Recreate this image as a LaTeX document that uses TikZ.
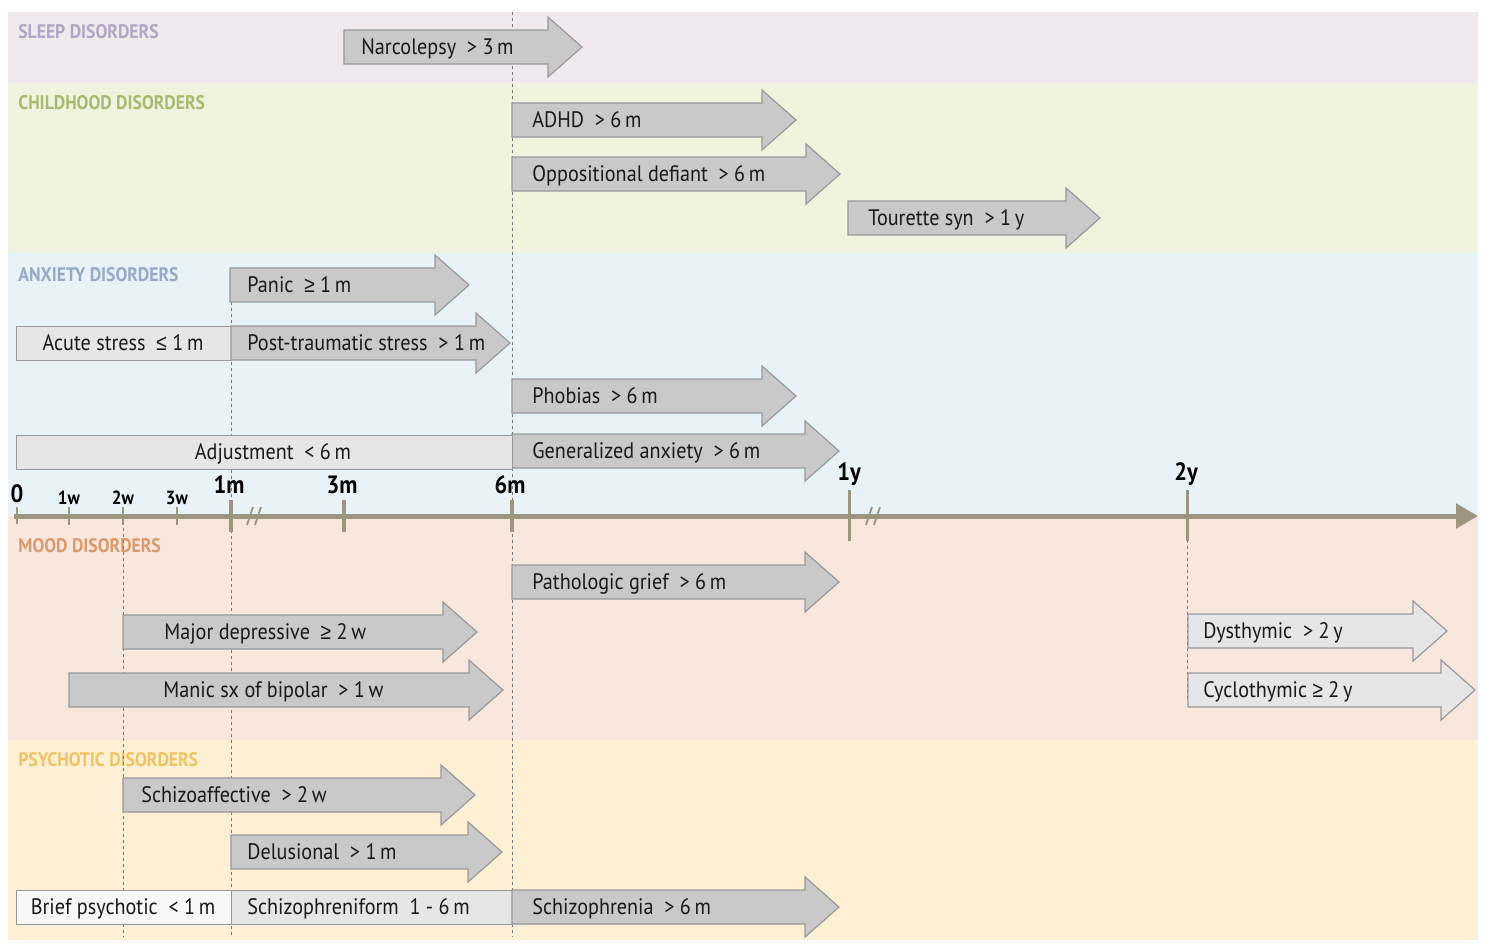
\documentclass[tikz,border=0pt]{standalone}
\usepackage{fontspec}
\setmainfont{PT Sans}[FakeStretch=0.9]
\newfontfamily\relfont{Liberation Sans}[FakeStretch=0.85]
\usetikzlibrary{arrows.meta}

% panel and header colours
\definecolor{sleepbg}{HTML}{F0E9EE}
\definecolor{childbg}{HTML}{F0F4DE}
\definecolor{anxbg}{HTML}{E7F3F6}
\definecolor{moodbg}{HTML}{F7E7DC}
\definecolor{psybg}{HTML}{FDF0D5}
\definecolor{sleephd}{HTML}{B4A5C4}
\definecolor{childhd}{HTML}{A9B96F}
\definecolor{anxhd}{HTML}{98A8CB}
\definecolor{moodhd}{HTML}{DC9A6C}
\definecolor{psyhd}{HTML}{F2C361}
% bars and axis
\definecolor{barmid}{HTML}{C9C9C9}
\definecolor{barlight}{HTML}{E6E6E6}
\definecolor{barwhite}{HTML}{F8F8F8}
\definecolor{baredge}{HTML}{999999}
\definecolor{axisgray}{HTML}{9C9580}
\definecolor{guidegray}{HTML}{7A7A7A}

% relation signs with a horizontal bar
\newcommand{\geqs}{{\relfont ≥}}
\newcommand{\leqs}{{\relfont ≤}}

\tikzset{
  boxedge/.style={draw=baredge, line width=0.6pt},
  lbl/.style={anchor=base west, inner sep=0pt, font=\fontsize{11.2}{12}\selectfont, text=black!90},
  lblc/.style={anchor=base, inner sep=0pt, font=\fontsize{11.2}{12}\selectfont, text=black!90},
  header/.style={anchor=base west, inner sep=0pt, font=\bfseries\fontsize{9.8}{11}\selectfont},
  guide/.style={draw=guidegray, line width=0.5pt, dash pattern=on 1.5pt off 1.5pt},
  axisline/.style={draw=axisgray, line width=2.5pt},
  tickw/.style={draw=axisgray, line width=1pt},
  tickm/.style={draw=axisgray, line width=2pt},
  ticky/.style={draw=axisgray, line width=1.5pt},
  ticklbl/.style={anchor=base, inner sep=0pt, font=\bfseries\fontsize{12.5}{14}\selectfont},
  ticklbls/.style={anchor=base, inner sep=0pt, font=\bfseries\fontsize{9.5}{11}\selectfont},
}

% duration arrow: fill, name, start x, body end x, centre y, text x, text
\newcommand{\spanarrow}[7]{%
  \draw[boxedge, fill=#1] (#3,#5-17) -- (#4,#5-17) -- (#4,#5-30) -- (#4+34,#5)
    -- (#4,#5+30) -- (#4,#5+17) -- (#3,#5+17) -- cycle;
  \node[lbl] (#2) at (#6,#5+7.5) {#7};
}

\begin{document}
\begin{tikzpicture}[x=0.5pt, y=-0.5pt]
\useasboundingbox (0,0) rectangle (1488,950);

% category panels
\fill[sleepbg] (8,12) rectangle (1478,83);
\fill[childbg] (8,83) rectangle (1478,253);
\fill[anxbg]   (8,253) rectangle (1478,516);
\fill[moodbg]  (8,516) rectangle (1478,740);
\fill[psybg]   (8,740) rectangle (1478,940);

% category headers
\node[header, text=sleephd] (hsleep) at (18,38) {SLEEP DISORDERS};
\node[header, text=childhd] (hchild) at (18,109) {CHILDHOOD DISORDERS};
\node[header, text=anxhd]   (hanx)   at (18,281) {ANXIETY DISORDERS};
\node[header, text=moodhd]  (hmood)  at (18,552) {MOOD DISORDERS};
\node[header, text=psyhd]   (hpsy)   at (18,766) {PSYCHOTIC DISORDERS};

% guide lines at 2 weeks, 1 month, 6 months and 2 years
\draw[guide] (512,12) -- (512,937);
\draw[guide] (231,302) -- (231,937);
\draw[guide] (123,516) -- (123,937);
\draw[guide] (1187,540) -- (1187,700);

% time axis
\draw[axisline, -{Triangle[length=11pt, width=12pt]}] (14,516) -- (1478,516);
\draw[tickw] (17,507) -- (17,524);
\foreach \x in {69,123,177} \draw[tickw] (\x,507) -- (\x,525);
\foreach \x in {231,344,512} \draw[tickm] (\x,500) -- (\x,532);
\foreach \x in {849,1187} \draw[ticky] (\x,490) -- (\x,541);
% axis breaks
\foreach \x in {250,258,869,877} \draw[axisgray, line width=0.9pt] (\x-3,525) -- (\x+3,507);

\node[ticklbl]  (t0)  at (17,502) {0};
\node[ticklbls] (t1w) at (69,504) {1w};
\node[ticklbls] (t2w) at (123,504) {2w};
\node[ticklbls] (t3w) at (177,504) {3w};
\node[ticklbl]  (t1m) at (229,493) {1m};
\node[ticklbl]  (t3m) at (342,493) {3m};
\node[ticklbl]  (t6m) at (510,493) {6m};
\node[ticklbl]  (t1y) at (849,480) {1y};
\node[ticklbl]  (t2y) at (1186,480) {2y};

% sleep disorders
\spanarrow{barmid}{narco}{344}{548}{47}{361}{Narcolepsy\ \ > 3\,m}

% childhood disorders
\spanarrow{barmid}{adhd}{512}{762}{120}{532}{ADHD\ \ > 6\,m}
\spanarrow{barmid}{odd}{512}{806}{174}{532}{Oppositional defiant\ \ > 6\,m}
\spanarrow{barmid}{tourette}{848}{1066}{218}{868}{Tourette syn\ \ > 1\,y}

% anxiety disorders
\spanarrow{barmid}{panic}{230}{435}{285}{247}{Panic\ \ \geqs\ 1\,m}
\node[boxedge, fill=barlight, minimum width=107.5pt, minimum height=17pt, inner sep=0pt,
      anchor=north west] (acutebox) at (16,326) {};
\node[lblc] (acute) at (123,350.5) {Acute stress\ \ \leqs\ 1\,m};
\spanarrow{barmid}{ptsd}{231}{476}{343}{247}{Post-traumatic stress\ \ > 1\,m}
\spanarrow{barmid}{phobia}{512}{762}{396}{532}{Phobias\ \ > 6\,m}
\spanarrow{barmid}{gad}{512}{805}{451}{532}{Generalized anxiety\ \ > 6\,m}
\node[boxedge, fill=barlight, minimum width=248pt, minimum height=17pt, inner sep=0pt,
      anchor=north west] (adjbox) at (16,435) {};
\node[lblc] (adj) at (273,459) {Adjustment\ \ < 6\,m};

% mood disorders
\spanarrow{barmid}{grief}{512}{805}{582}{532}{Pathologic grief\ \ > 6\,m}
\spanarrow{barmid}{mdd}{123}{443}{632}{164}{Major depressive\ \ \geqs\ 2\,w}
\spanarrow{barmid}{manic}{69}{469}{690}{163}{Manic sx of bipolar\ \ > 1\,w}
\spanarrow{barlight}{dysth}{1188}{1413}{631}{1203}{Dysthymic\ \ > 2\,y}
\spanarrow{barlight}{cyclo}{1188}{1441}{690}{1203}{Cyclothymic \geqs\ 2\,y}

% psychotic disorders
\spanarrow{barmid}{schizoaff}{123}{441}{795}{141}{Schizoaffective\ \ > 2\,w}
\spanarrow{barmid}{delus}{231}{468}{852}{247}{Delusional\ \ > 1\,m}
\node[boxedge, fill=barwhite, minimum width=107.5pt, minimum height=17pt, inner sep=0pt,
      anchor=north west] (briefbox) at (16,890) {};
\node[lblc] (brief) at (123,914.5) {Brief psychotic\ \ < 1\,m};
\node[boxedge, fill=barlight, minimum width=140.5pt, minimum height=17pt, inner sep=0pt,
      anchor=north west] (formbox) at (231,890) {};
\node[lbl] (form) at (247,914.5) {Schizophreniform\ \ 1 - 6\,m};
\spanarrow{barmid}{schizo}{512}{805}{907}{532}{Schizophrenia\ \ > 6\,m}

\end{tikzpicture}
\end{document}
